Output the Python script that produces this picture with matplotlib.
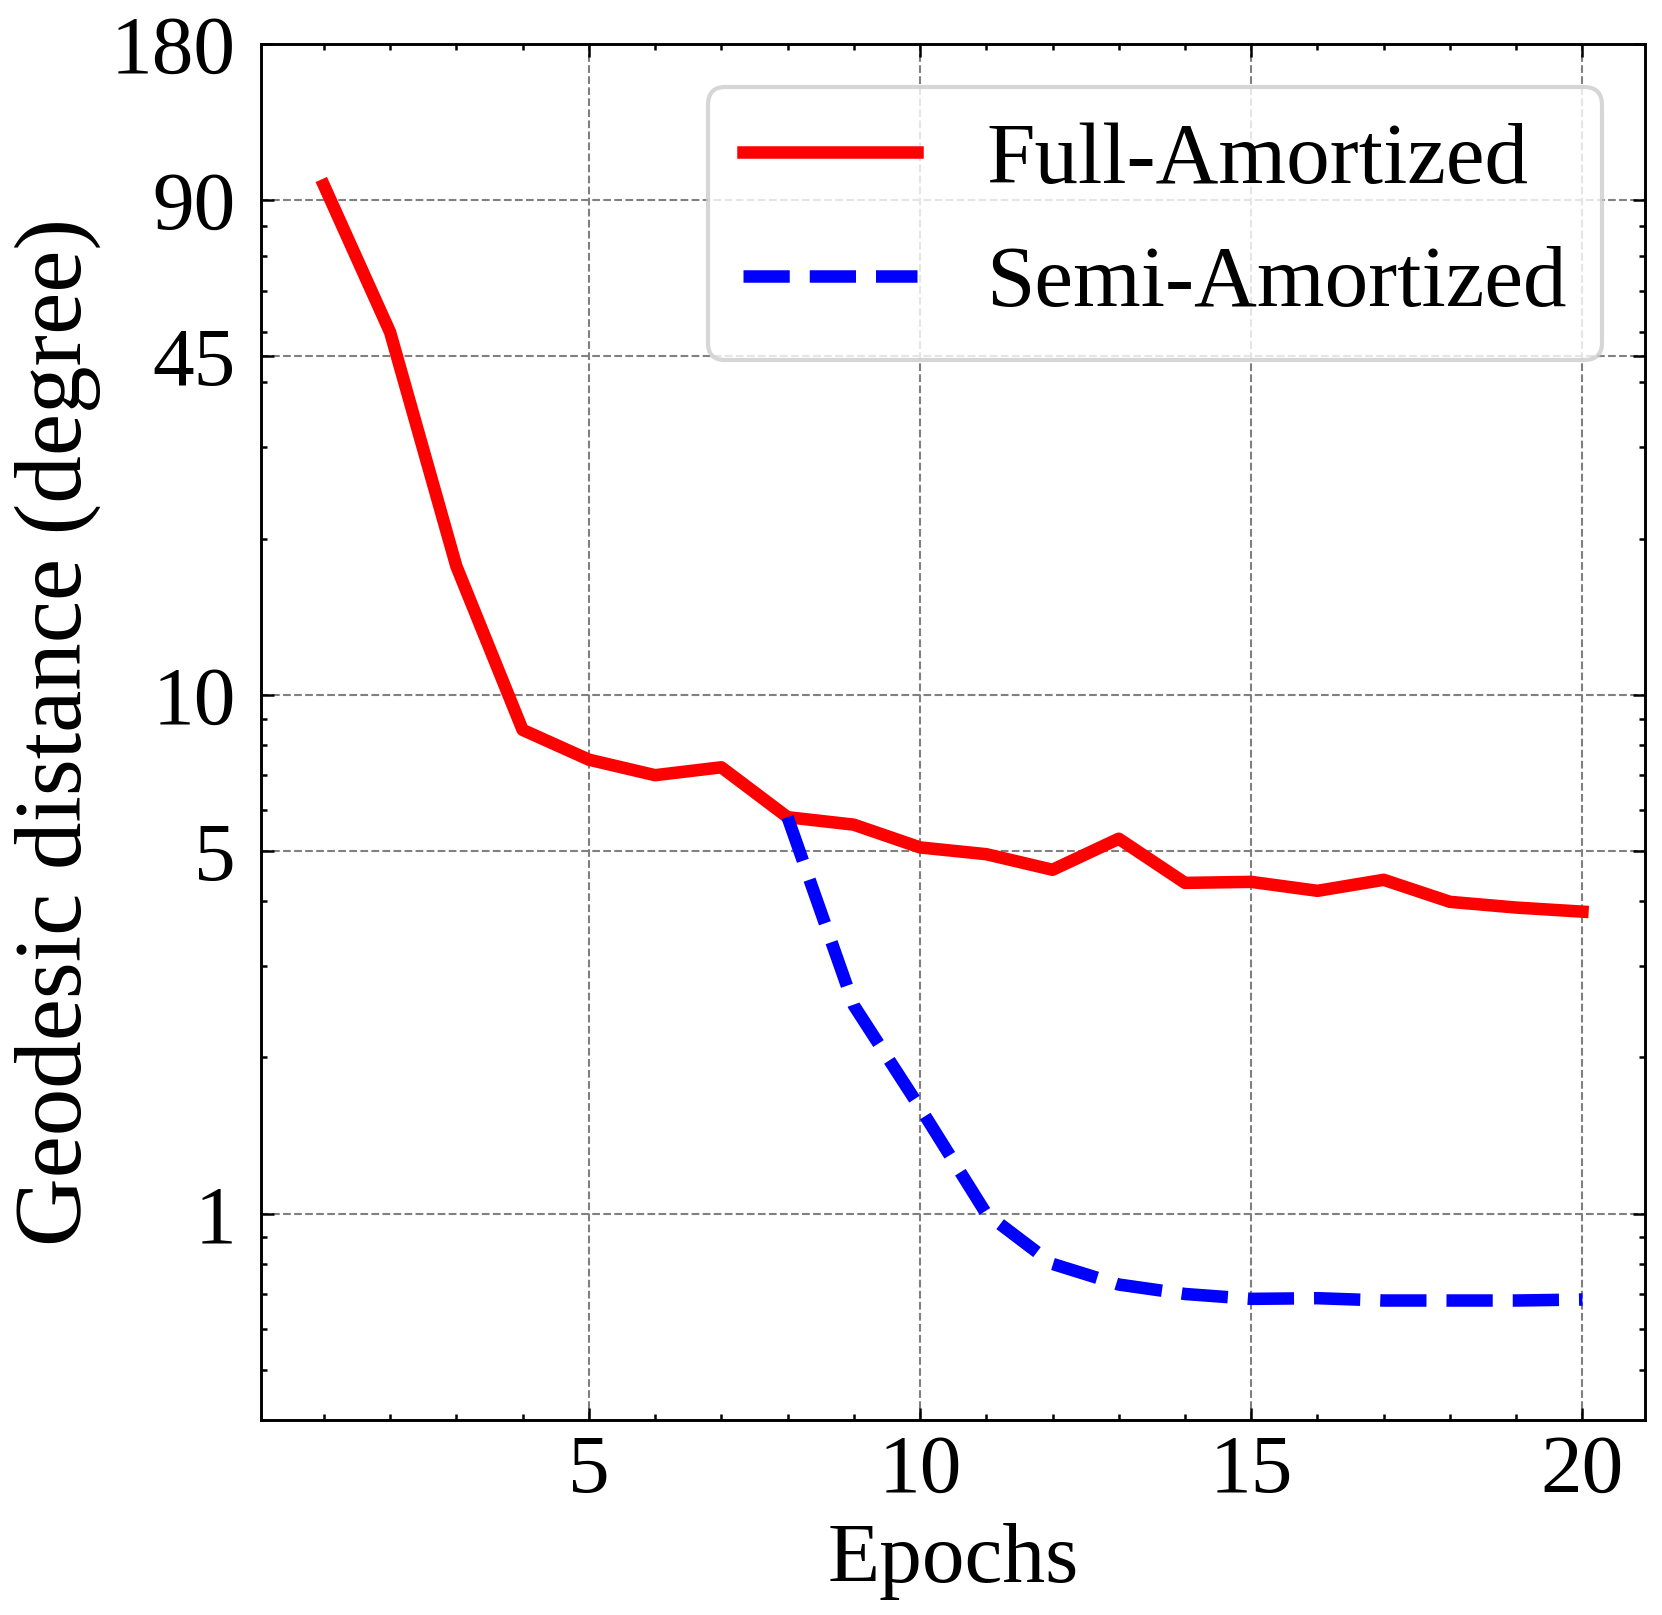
import matplotlib
matplotlib.use("Agg")
import matplotlib.pyplot as plt
from matplotlib.ticker import FixedLocator, FixedFormatter, LogLocator, MultipleLocator, NullFormatter

# data
epochs = list(range(1, 21))
full_amortized = [96, 50, 17.7, 8.56, 7.5, 7.0, 7.25, 5.81, 5.62, 5.08,
                  4.93, 4.60, 5.28, 4.34, 4.36, 4.19, 4.40, 3.99, 3.89, 3.82]
semi_epochs = list(range(8, 21))
semi_amortized = [5.81, 2.52, 1.6, 1.0, 0.80, 0.73, 0.70, 0.685, 0.687,
                  0.68, 0.68, 0.68, 0.683]

y_ticks = [1, 5, 10, 45, 90, 180]
y_tick_labels = ["1", "5", "10", "45", "90", "180"]
x_ticks = [5, 10, 15, 20]

plt.rcParams['font.family'] = ['Liberation Serif', 'DejaVu Serif']

fig = plt.figure(figsize=(1662 / 300, 1615 / 300), dpi=300)
ax = fig.add_axes([0.157, 0.1207, 0.990 - 0.157, 0.973 - 0.1207])

ax.plot(epochs, full_amortized, color='red', lw=3, label='Full-Amortized')
ax.plot(semi_epochs, semi_amortized, color='blue', lw=3, ls='--',
        label='Semi-Amortized')

ax.set_yscale('log')
ax.set_ylim(0.4, 180)
ax.set_xlim(0.05, 20.95)

ax.yaxis.set_major_locator(FixedLocator(y_ticks))
ax.yaxis.set_major_formatter(FixedFormatter(y_tick_labels))
ax.yaxis.set_minor_locator(LogLocator(base=10, subs=range(2, 10)))
ax.yaxis.set_minor_formatter(NullFormatter())
ax.xaxis.set_major_locator(FixedLocator(x_ticks))
ax.xaxis.set_minor_locator(MultipleLocator(1))

for side in ax.spines.values():
    side.set_linewidth(0.7)

ax.tick_params(which='both', direction='in', top=True, right=True, width=0.6)
ax.tick_params(which='major', length=3, labelsize=20)
ax.tick_params(axis='y', which='major', pad=6)
ax.tick_params(axis='x', which='major', pad=3.5)
ax.tick_params(which='minor', length=1.5)

ax.grid(True, which='major', ls='--', color='0.5', lw=0.5)

ax.set_xlabel('Epochs', fontsize=20.5, labelpad=3)
ax.set_ylabel('Geodesic distance (degree)', fontsize=22.8, labelpad=2.5)

leg = ax.legend(loc='upper right', fontsize=20.9, frameon=True, fancybox=True)
leg.get_frame().set_edgecolor('0.8')

fig.savefig('out.png', dpi=300)
